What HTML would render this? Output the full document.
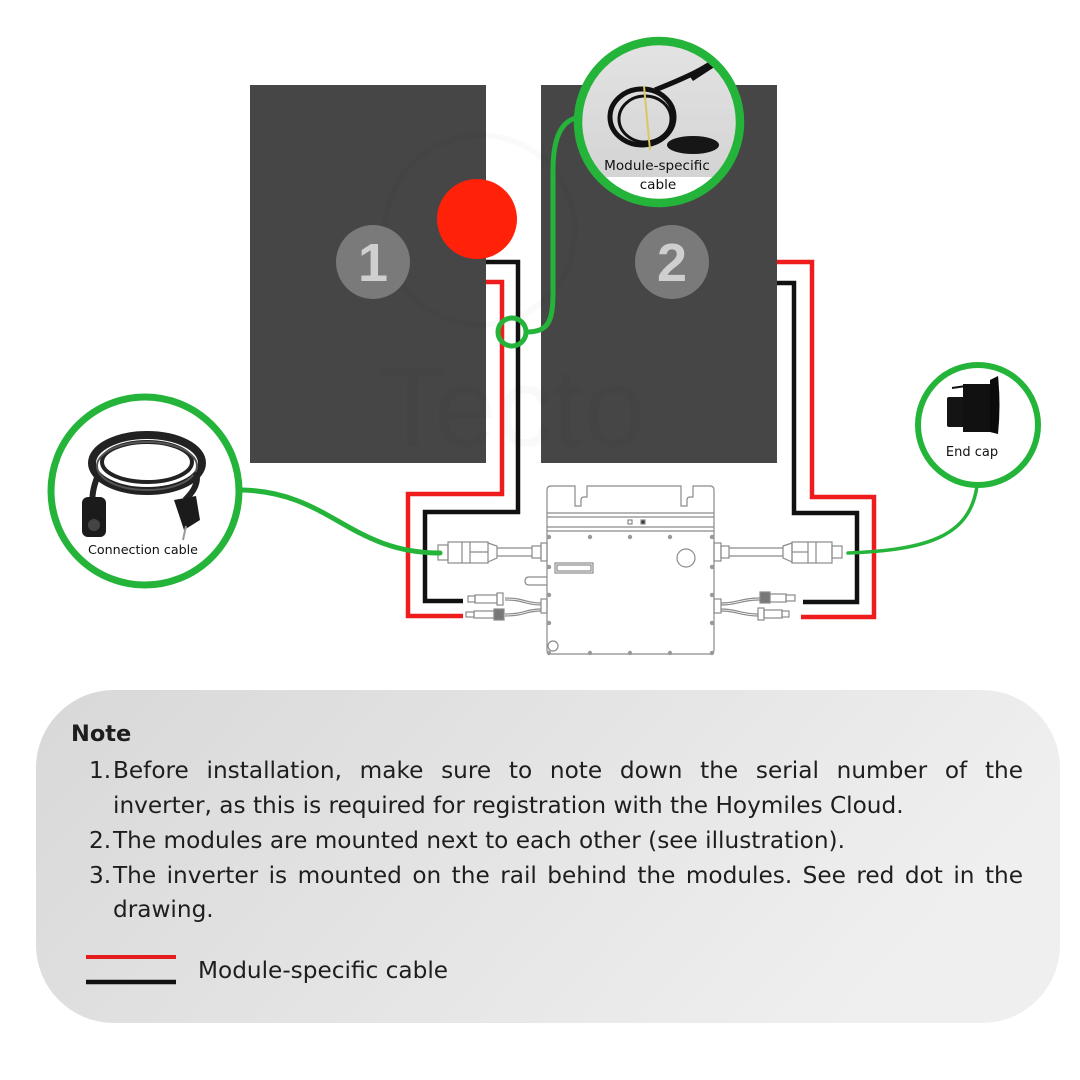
<!DOCTYPE html>
<html><head><meta charset="utf-8">
<style>
html,body{margin:0;padding:0;background:#fff;}
body{width:1080px;height:1080px;position:relative;overflow:hidden;font-family:"DejaVu Sans","Liberation Sans",sans-serif;}
svg{position:absolute;left:0;top:0;}
.t{position:absolute;color:#1e1e1e;font-size:23.2px;line-height:35px;white-space:nowrap;}
.j{text-align:justify;text-align-last:justify;width:910px;white-space:normal;}
</style></head><body>
<svg width="1080" height="1080" viewBox="0 0 1080 1080" xmlns="http://www.w3.org/2000/svg">
<defs>
<linearGradient id="nb" x1="0" y1="0" x2="1" y2="0.3">
<stop offset="0" stop-color="#d8d8d8"/><stop offset="1" stop-color="#efefef"/>
</linearGradient>
<linearGradient id="mc" x1="0" y1="0" x2="0" y2="1">
<stop offset="0" stop-color="#e4e4e4"/><stop offset="1" stop-color="#cfcfcf"/>
</linearGradient>
<clipPath id="mclip"><circle cx="659" cy="122" r="81"/></clipPath>
</defs>

<!-- panels -->
<rect x="250" y="85" width="236" height="378" fill="#464646"/>
<rect x="541" y="85" width="236" height="378" fill="#464646"/>
<!-- faint watermark -->
<circle cx="480" cy="230" r="95" fill="none" stroke="#000" stroke-opacity="0.02" stroke-width="6"/>
<text x="378" y="446" font-family="Liberation Sans, sans-serif" font-size="112" fill="#000" fill-opacity="0.025">Tecto</text>

<!-- numbers -->
<circle cx="373" cy="262" r="37" fill="#7a7a7a"/>
<text x="373" y="281" text-anchor="middle" font-family="Liberation Sans, sans-serif" font-weight="bold" font-size="54" fill="#cfcfcf">1</text>
<circle cx="672" cy="262" r="37" fill="#7a7a7a"/>
<text x="672" y="281" text-anchor="middle" font-family="Liberation Sans, sans-serif" font-weight="bold" font-size="54" fill="#cfcfcf">2</text>

<!-- red dot -->
<circle cx="477" cy="219" r="40" fill="#ff2208"/>

<!-- wires -->
<g fill="none" stroke-width="4.5" stroke-linejoin="miter" stroke-linecap="butt">
<path d="M486,282 H502 V494 H408 V616 H463" stroke="#ee1c1c"/>
<path d="M486,262 H518 V512 H425 V601 H463" stroke="#111"/>
<path d="M777,262 H812 V497 H874 V617 H801" stroke="#ee1c1c"/>
<path d="M777,283 H794 V513 H857 V602 H803" stroke="#111"/>
</g>

<!-- inverter -->
<g fill="none" stroke="#8a8a8a" stroke-width="1.2">
<path d="M547,650 V490 Q547,486 551,486 H575 V506 H581 V500 Q581,497 584,497 H587 V486 H681 V506 H687 V500 Q687,497 690,497 H693 V486 H710 Q714,486 714,490 V650 Q714,654 710,654 H551 Q547,654 547,650 Z" fill="#fff"/>
<line x1="547" y1="513" x2="714" y2="513"/>
<line x1="547" y1="517" x2="714" y2="517"/>
<line x1="547" y1="527" x2="714" y2="527"/>
<line x1="547" y1="531" x2="714" y2="531"/>
<rect x="628" y="520" width="4" height="4"/>
<rect x="641" y="520" width="4" height="4" fill="#333"/>
<rect x="555" y="563" width="38" height="10"/>
<rect x="557" y="565" width="34" height="6"/>
<circle cx="686" cy="558" r="9"/>
<circle cx="553" cy="646" r="5"/>
<path d="M547,577 H529 Q525,577 525,581 Q525,585 529,585 H547"/>
<!-- left AC -->
<line x1="497" y1="548" x2="532" y2="548"/>
<line x1="497" y1="556" x2="532" y2="556"/>
<rect x="532" y="546" width="9" height="12"/>
<rect x="541" y="543" width="6" height="18"/>
<rect x="438" y="545" width="10" height="15"/>
<rect x="448" y="542" width="40" height="21"/>
<line x1="462" y1="542" x2="462" y2="563"/>
<line x1="470" y1="542" x2="470" y2="563"/>
<line x1="470" y1="552" x2="488" y2="552"/>
<path d="M488,543 L497,546 V558 L488,562"/>
<!-- right AC -->
<rect x="714" y="543" width="7" height="18"/>
<rect x="721" y="546" width="8" height="12"/>
<line x1="729" y1="548" x2="783" y2="548"/>
<line x1="729" y1="556" x2="783" y2="556"/>
<path d="M783,546 L792,543 V562 L783,558 Z"/>
<rect x="792" y="542" width="40" height="21"/>
<line x1="808" y1="542" x2="808" y2="563"/>
<line x1="816" y1="542" x2="816" y2="563"/>
<line x1="792" y1="552" x2="808" y2="552"/>
<rect x="832" y="546" width="10" height="12"/>
<!-- left DC -->
<rect x="541" y="599" width="6" height="14"/>
<path d="M541,603 C525,603 525,598 505,598 M541,609 C525,609 525,614 505,614"/>
<path d="M541,605 C525,605 525,600 505,600 M541,611 C525,611 525,616 505,616"/>
<rect x="497" y="593" width="6" height="12"/>
<rect x="475" y="595" width="22" height="8"/>
<rect x="468" y="596" width="7" height="6"/>
<rect x="494" y="609" width="10" height="11" fill="#777"/>
<rect x="474" y="611" width="20" height="7"/>
<rect x="466" y="612" width="8" height="5"/>
<!-- right DC -->
<rect x="714" y="599" width="7" height="14"/>
<path d="M721,603 C738,603 740,598 760,598 M721,609 C738,609 740,614 758,614"/>
<path d="M721,605 C738,605 740,600 760,600 M721,611 C738,611 740,616 758,616"/>
<rect x="760" y="592" width="10" height="11" fill="#777"/>
<rect x="770" y="594" width="16" height="8"/>
<rect x="786" y="595" width="9" height="6"/>
<rect x="758" y="608" width="6" height="12"/>
<rect x="764" y="610" width="18" height="8"/>
<rect x="782" y="611" width="7" height="6"/>
</g>
<g fill="#999">
<circle cx="549" cy="537" r="2.2"/><circle cx="590" cy="537" r="2.2"/><circle cx="630" cy="537" r="2.2"/><circle cx="670" cy="537" r="2.2"/><circle cx="712" cy="537" r="2.2"/>
<circle cx="549" cy="567" r="2.2"/><circle cx="549" cy="595" r="2.2"/><circle cx="549" cy="623" r="2.2"/>
<circle cx="712" cy="567" r="2.2"/><circle cx="712" cy="595" r="2.2"/><circle cx="712" cy="623" r="2.2"/>
<circle cx="549" cy="653" r="2.2"/><circle cx="590" cy="653" r="2.2"/><circle cx="630" cy="653" r="2.2"/><circle cx="670" cy="653" r="2.2"/><circle cx="712" cy="653" r="2.2"/>
</g>

<!-- green connectors -->
<g fill="none" stroke="#25b43a" stroke-linecap="round">
<path d="M242,490 C330,492 350,553 440,553" stroke-width="5"/>
<path d="M977,486 C970,535 930,550 848,553" stroke-width="3.5"/>
<path d="M526,332 C550,332 553,320 553,290 V170 C553,140 560,122 576,118" stroke-width="5"/>
<circle cx="512" cy="332" r="14" stroke-width="5"/>
</g>

<!-- connection cable circle -->
<circle cx="145" cy="491" r="94" fill="#fff" stroke="#25b43a" stroke-width="7"/>
<g fill="none" stroke="#222">
<ellipse cx="147" cy="463" rx="55" ry="28" stroke-width="8"/>
<ellipse cx="147" cy="462" rx="45" ry="20" stroke-width="4"/>
<ellipse cx="147" cy="466" rx="50" ry="24" stroke-width="2" stroke="#555"/>
<path d="M98,475 C92,490 92,500 93,505" stroke-width="6"/>
<path d="M196,472 C200,485 190,495 185,500" stroke-width="6"/>
</g>
<rect x="82" y="497" width="24" height="40" rx="6" fill="#1b1b1b"/>
<circle cx="94" cy="525" r="6" fill="#444"/>
<path d="M174,500 L196,496 L200,520 L184,530 Z" fill="#1b1b1b"/>
<line x1="186" y1="526" x2="183" y2="540" stroke="#999" stroke-width="2"/>
<text x="143" y="554" text-anchor="middle" font-family="DejaVu Sans, sans-serif" font-size="12.7" fill="#111">Connection cable</text>

<!-- end cap circle -->
<circle cx="978" cy="425" r="60" fill="#fff" stroke="#25b43a" stroke-width="6"/>
<rect x="947" y="397" width="18" height="30" rx="2" fill="#141414"/>
<rect x="963" y="384" width="28" height="48" fill="#111"/>
<path d="M990,380 L998,376 Q1001,405 998,434 L990,432 Z" fill="#0b0b0b"/>
<line x1="952" y1="388" x2="966" y2="386" stroke="#111" stroke-width="2"/>
<text x="972" y="456" text-anchor="middle" font-family="DejaVu Sans, sans-serif" font-size="13" fill="#111">End cap</text>

<!-- module-specific cable circle -->
<g clip-path="url(#mclip)">
<rect x="570" y="35" width="180" height="180" fill="url(#mc)"/>
<rect x="570" y="177" width="180" height="40" fill="#fff"/>
<g fill="none" stroke="#111">
<ellipse cx="642" cy="117" rx="32" ry="28" stroke-width="5"/>
<ellipse cx="645" cy="119" rx="26" ry="23" stroke-width="3"/>
<path d="M655,90 C670,84 685,78 700,70" stroke-width="5"/>
</g>
<path d="M688,74 L712,60 L716,66 L693,81 Z" fill="#111"/>
<line x1="712" y1="63" x2="728" y2="55" stroke="#111" stroke-width="4"/>
<ellipse cx="693" cy="145" rx="26" ry="9" fill="#161616"/>
<line x1="644" y1="86" x2="650" y2="150" stroke="#d8c860" stroke-width="2"/>
</g>
<circle cx="659" cy="122" r="81" fill="none" stroke="#25b43a" stroke-width="8.5"/>
<text x="657" y="170" text-anchor="middle" font-family="DejaVu Sans, sans-serif" font-size="13.6" fill="#111">Module-specific</text>
<text x="658" y="189" text-anchor="middle" font-family="DejaVu Sans, sans-serif" font-size="13.6" fill="#111">cable</text>

<!-- note box -->
<rect x="36" y="690" width="1024" height="333" rx="78" ry="78" fill="url(#nb)"/>
<line x1="86" y1="957" x2="176" y2="957" stroke="#e51c1c" stroke-width="4"/>
<line x1="86" y1="982" x2="176" y2="982" stroke="#111" stroke-width="4.5"/>
</svg>

<div class="t" style="left:71px;top:719px;font-weight:bold;font-size:22.5px;line-height:30px;">Note</div>
<div class="t" style="left:89px;top:753px;">1.</div>
<div class="t j" style="left:113px;top:753px;">Before installation, make sure to note down the serial number of the</div>
<div class="t" style="left:113px;top:788px;">inverter, as this is required for registration with the Hoymiles Cloud.</div>
<div class="t" style="left:89px;top:823px;">2.</div>
<div class="t" style="left:113px;top:823px;">The modules are mounted next to each other (see illustration).</div>
<div class="t" style="left:89px;top:858px;">3.</div>
<div class="t j" style="left:113px;top:858px;">The inverter is mounted on the rail behind the modules. See red dot in the</div>
<div class="t" style="left:113px;top:892px;">drawing.</div>
<div class="t" style="left:198px;top:953px;">Module-specific cable</div>
</body></html>
